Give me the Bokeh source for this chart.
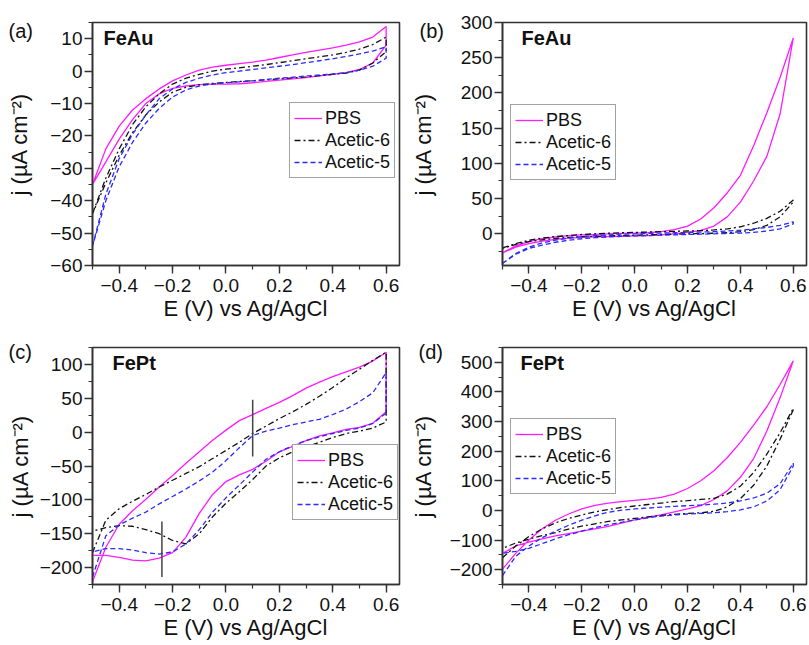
from bokeh.plotting import figure
from bokeh.layouts import gridplot
from bokeh.models import (ColumnDataSource, Legend, LegendItem, Label,
                          SingleIntervalTicker, CustomJSTickFormatter, Range1d)
from bokeh.embed import file_html
from bokeh.resources import INLINE

# ---------------- data ----------------
# potential grid (V vs Ag/AgCl): anodic sweep then cathodic sweep
E_UP = [-0.5, -0.45, -0.4, -0.35, -0.3, -0.25, -0.2, -0.15, -0.1, -0.05, 0.0,
        0.05, 0.1, 0.15, 0.2, 0.25, 0.3, 0.35, 0.4, 0.45, 0.5, 0.55, 0.6]
E_DOWN = list(reversed(E_UP))

SERIES = ["PBS", "Acetic-6", "Acetic-5"]

# (a) FeAu, narrow scale
a_pbs_up = [-35, -24, -17, -12, -8.5, -5.5, -3, -1.2, 0.3, 1.2, 1.8, 2.3, 2.8, 3.4,
            4.2, 5.0, 5.8, 6.5, 7.2, 8.0, 9.0, 10.5, 13.8]
a_pbs_dn = [8, 2.5, 0.5, -0.5, -1.0, -1.5, -2.0, -2.4, -2.8, -3.2, -3.6, -3.9, -4.0,
            -4.0, -4.2, -4.6, -5.3, -7, -10, -15, -21, -28, -35]
a_ac6_up = [-44, -33, -24, -16.5, -11, -7, -4, -2.2, -1.0, 0, 0.6, 1.0, 1.5, 2.0,
            2.6, 3.2, 3.8, 4.4, 5.0, 5.8, 6.8, 8.2, 10.5]
a_ac6_dn = [6, 2.5, 0.3, -0.6, -1.0, -1.4, -1.8, -2.1, -2.4, -2.7, -3.0, -3.2, -3.5,
            -3.8, -4.2, -5.0, -6.5, -9.5, -13.5, -19, -26, -34.5, -44]
a_ac5_up = [-54, -38, -27, -19.5, -13.5, -8.5, -5.5, -3.5, -2.2, -1.2, -0.5, 0.0, 0.5,
            1.0, 1.5, 2.0, 2.6, 3.2, 3.8, 4.5, 5.3, 6.2, 7.5]
a_ac5_dn = [4.0, 1.5, 0.3, -0.5, -0.9, -1.2, -1.5, -1.9, -2.2, -2.6, -3.0, -3.3, -3.6,
            -4.0, -4.6, -5.8, -8, -11.5, -16, -22, -29.5, -40, -54]

# (b) FeAu, wide scale
b_pbs_up = [-27, -17, -11, -7, -4.5, -2.5, -1.5, -0.8, 0, 0.5, 1, 1.5, 3, 6, 11, 21,
            37, 58, 83, 125, 172, 222, 278]
b_pbs_dn = [278, 170, 110, 75, 45, 24, 11, 5, 2, 0, -1.5, -2.5, -3, -3.5, -4, -4.5,
            -5, -6, -8, -10.5, -14, -19, -27]
b_ac6_up = [-20, -14, -9, -6, -4, -2.5, -1, 0, 0.8, 1.5, 2, 2.5, 3, 3.5, 4, 4.5, 5.5,
            7, 10, 15, 22, 32, 48]
b_ac6_dn = [45, 24, 12, 6, 3, 1.5, 0.8, 0.3, 0, -0.5, -1, -1.5, -2, -2.5, -3, -3.5,
            -4, -5, -6.5, -8.5, -11, -15, -21]
b_ac5_up = [-42, -28, -19, -13, -9, -6, -4, -2.5, -1.5, -0.5, 0, 0.5, 1, 1.5, 2, 2.5,
            3, 4, 5, 7, 9, 12, 17]
b_ac5_dn = [14, 7, 4, 2, 1, 0.5, 0, -0.5, -1, -1.5, -2, -2.5, -3, -3.5, -4.5, -5.5,
            -7, -9, -12, -16, -21, -29, -42]

# (c) FePt, narrow scale
c_pbs_up = [-221, -170, -136, -116, -99, -81, -64, -46, -29, -12, 3, 17, 26, 35, 44,
            54, 65, 74, 82, 89, 96, 105, 118]
c_pbs_dn = [30, 13, 7, 4, -1, -5.5, -12.5, -21, -29, -43, -55, -63, -73, -92, -120,
            -155, -178, -186, -190, -189, -185, -182, -182]
c_ac6_up = [-178, -130, -113, -102, -92, -81, -71, -61, -51, -39, -27, -15, -2, 9, 20,
            30, 41, 53, 66, 80, 93, 106, 118]
c_ac6_dn = [15, 6, 1.5, -2, -8, -15, -22, -29, -38, -50, -70, -88, -105, -125, -150,
            -165, -160, -150, -144, -139, -138, -141, -146]
c_ac5_up = [-214, -153, -137, -127, -118, -106, -95, -84, -72, -59, -42, -23, -5, 1.5,
            6, 11, 15, 19, 26, 34, 45, 58, 88]
c_ac5_dn = [28, 13, 6, 2.5, -2, -7, -12.5, -20, -29, -40, -59, -78, -97, -118, -144,
            -165, -177, -180, -178, -174, -172, -172, -177]
# peak markers in (c)
c_mark_x = [0.1, -0.24]
c_mark_y0 = [48, -132]
c_mark_y1 = [-36, -214]

# (d) FePt, wide scale
d_pbs_up = [-198, -145, -100, -62, -33, -12, 5, 17, 25, 30, 34, 38, 44, 55, 74, 100,
            134, 178, 230, 288, 350, 425, 505]
d_pbs_dn = [505, 380, 268, 175, 112, 66, 37, 16, 5, -5, -15, -23, -32, -43, -54, -62,
            -70, -78, -86, -96, -107, -120, -145]
d_ac6_up = [-160, -120, -88, -62, -42, -27, -15, -5, 3, 10, 15, 20, 25, 30, 33, 37, 41,
            55, 82, 128, 190, 262, 345]
d_ac6_dn = [340, 240, 150, 85, 40, 12, -3, -8, -10, -13, -17, -22, -27, -32, -37, -45,
            -53, -63, -75, -85, -97, -110, -128]
d_ac5_up = [-220, -155, -120, -92, -70, -50, -33, -18, -6, 1, 5, 8, 11, 14, 16, 18, 21,
            25, 32, 42, 58, 90, 160]
d_ac5_dn = [150, 70, 32, 12, 2, -4, -8, -10, -12, -15, -19, -25, -32, -40, -48, -58,
            -70, -82, -96, -112, -128, -138, -145]

# ---------------- styling ----------------
FONT = "Liberation Sans"
COLORS = ["#ff1aff", "#111111", "#2b2bff"]
DASHES = ["solid", "6 3 2 3", "5 3"]
AXIS_COL = "#333333"
FRAME_W = 307
TOP = 21  # height of the side panel holding the panel tag

X_FMT = CustomJSTickFormatter(code="return tick.toFixed(1).replace('-', '\u2212')")
Y_FMT = CustomJSTickFormatter(code="return tick.toFixed(0).replace('-', '\u2212')")


def make_panel(tag, title, curves, yrange, ymajor, legend_xy,
               left, right, frame_h, bottom, ylab_standoff,
               title_dx, title_dy, tag_dx, tag_dy):
    p = figure(width=left + FRAME_W + right, height=TOP + frame_h + bottom,
               x_range=Range1d(-0.5, 0.65), y_range=Range1d(*yrange),
               output_backend="svg", toolbar_location=None,
               min_border_left=left, min_border_right=right,
               min_border_top=TOP, min_border_bottom=bottom)
    p.background_fill_color = "white"
    p.border_fill_color = "white"
    p.outline_line_color = AXIS_COL
    p.outline_line_width = 1.6
    p.xgrid.visible = False
    p.ygrid.visible = False

    p.xaxis.ticker = SingleIntervalTicker(interval=0.2, num_minor_ticks=2)
    p.xaxis.formatter = X_FMT
    p.yaxis.ticker = SingleIntervalTicker(interval=ymajor, num_minor_ticks=2)
    p.yaxis.formatter = Y_FMT
    p.xaxis.axis_label = "E (V) vs Ag/AgCl"
    p.yaxis.axis_label = "j (\u00b5A cm\u207b\u00b2)"
    for ax in (p.xaxis, p.yaxis):
        ax.axis_line_color = AXIS_COL
        ax.axis_line_width = 1.6
        ax.major_tick_line_color = AXIS_COL
        ax.minor_tick_line_color = AXIS_COL
        ax.major_tick_line_width = 1.4
        ax.minor_tick_line_width = 1.2
        ax.major_tick_out = 8
        ax.major_tick_in = 0
        ax.minor_tick_out = 4
        ax.minor_tick_in = 0
        ax.major_label_text_font = FONT
        ax.major_label_text_font_size = "19px"
        ax.major_label_text_color = "#111111"
        ax.axis_label_text_font = FONT
        ax.axis_label_text_font_size = "22px"
        ax.axis_label_text_font_style = "normal"
        ax.axis_label_text_color = "#111111"
    p.xaxis.major_label_standoff = 5
    p.xaxis.axis_label_standoff = 1
    p.yaxis.major_label_standoff = 2
    p.yaxis.axis_label_standoff = ylab_standoff

    items = []
    for name, (up, dn), col, dash in zip(SERIES, curves, COLORS, DASHES):
        src = ColumnDataSource(dict(E=E_UP + E_DOWN, j=up + dn))
        r = p.line("E", "j", source=src, line_color=col, line_width=1.3,
                   line_dash=dash)
        items.append(LegendItem(label=name, renderers=[r]))

    leg = Legend(items=items, location=legend_xy)
    leg.label_text_font = FONT
    leg.label_text_font_size = "18px"
    leg.label_text_color = "#111111"
    leg.border_line_color = "#444444"
    leg.border_line_width = 1.2
    leg.background_fill_color = "white"
    leg.background_fill_alpha = 1.0
    leg.padding = 4
    leg.spacing = 0
    leg.margin = 0
    leg.label_height = 22
    leg.glyph_height = 22
    leg.glyph_width = 28
    leg.label_standoff = 3
    p.add_layout(leg, "center")

    p.add_layout(Label(x=title_dx, y=frame_h + title_dy, x_units="screen",
                       y_units="screen", text=title, text_font=FONT,
                       text_font_size="20px", text_font_style="bold",
                       text_baseline="top", text_color="#111111"))
    # panel tag, placed in the top side panel so the frame does not clip it
    p.add_layout(Label(x=tag_dx, y=tag_dy, x_units="screen", y_units="screen",
                       text=tag, text_font=FONT, text_font_size="20px",
                       text_baseline="top", text_color="#111111"), "above")
    return p


pa = make_panel("(a)", "FeAu",
                [(a_pbs_up, a_pbs_dn), (a_ac6_up, a_ac6_dn), (a_ac5_up, a_ac5_dn)],
                (-60, 15), 10, (197, 87), 92, 8, 244, 60, 15, 11, -5, -84, 3)
pb = make_panel("(b)", "FeAu",
                [(b_pbs_up, b_pbs_dn), (b_ac6_up, b_ac6_dn), (b_ac5_up, b_ac5_dn)],
                (-45, 300), 50, (8, 85), 92, 2, 244, 60, 22, 19, -5, -83, 3)
pc = make_panel("(c)", "FePt",
                [(c_pbs_up, c_pbs_dn), (c_ac6_up, c_ac6_dn), (c_ac5_up, c_ac5_dn)],
                (-225, 125), 50, (200, 64), 92, 8, 238, 60, 4, 20, -5, -84, 7)
pd = make_panel("(d)", "FePt",
                [(d_pbs_up, d_pbs_dn), (d_ac6_up, d_ac6_dn), (d_ac5_up, d_ac5_dn)],
                (-250, 550), 100, (8, 90), 92, 2, 238, 60, 11, 18, -5, -84, 7)

pc.segment(x0=c_mark_x, y0=c_mark_y0, x1=c_mark_x, y1=c_mark_y1,
           line_color="#444444", line_width=1.5)

grid = gridplot([[pa, pb], [pc, pd]], toolbar_location=None)

open("out.html", "w").write(file_html(grid, INLINE))
